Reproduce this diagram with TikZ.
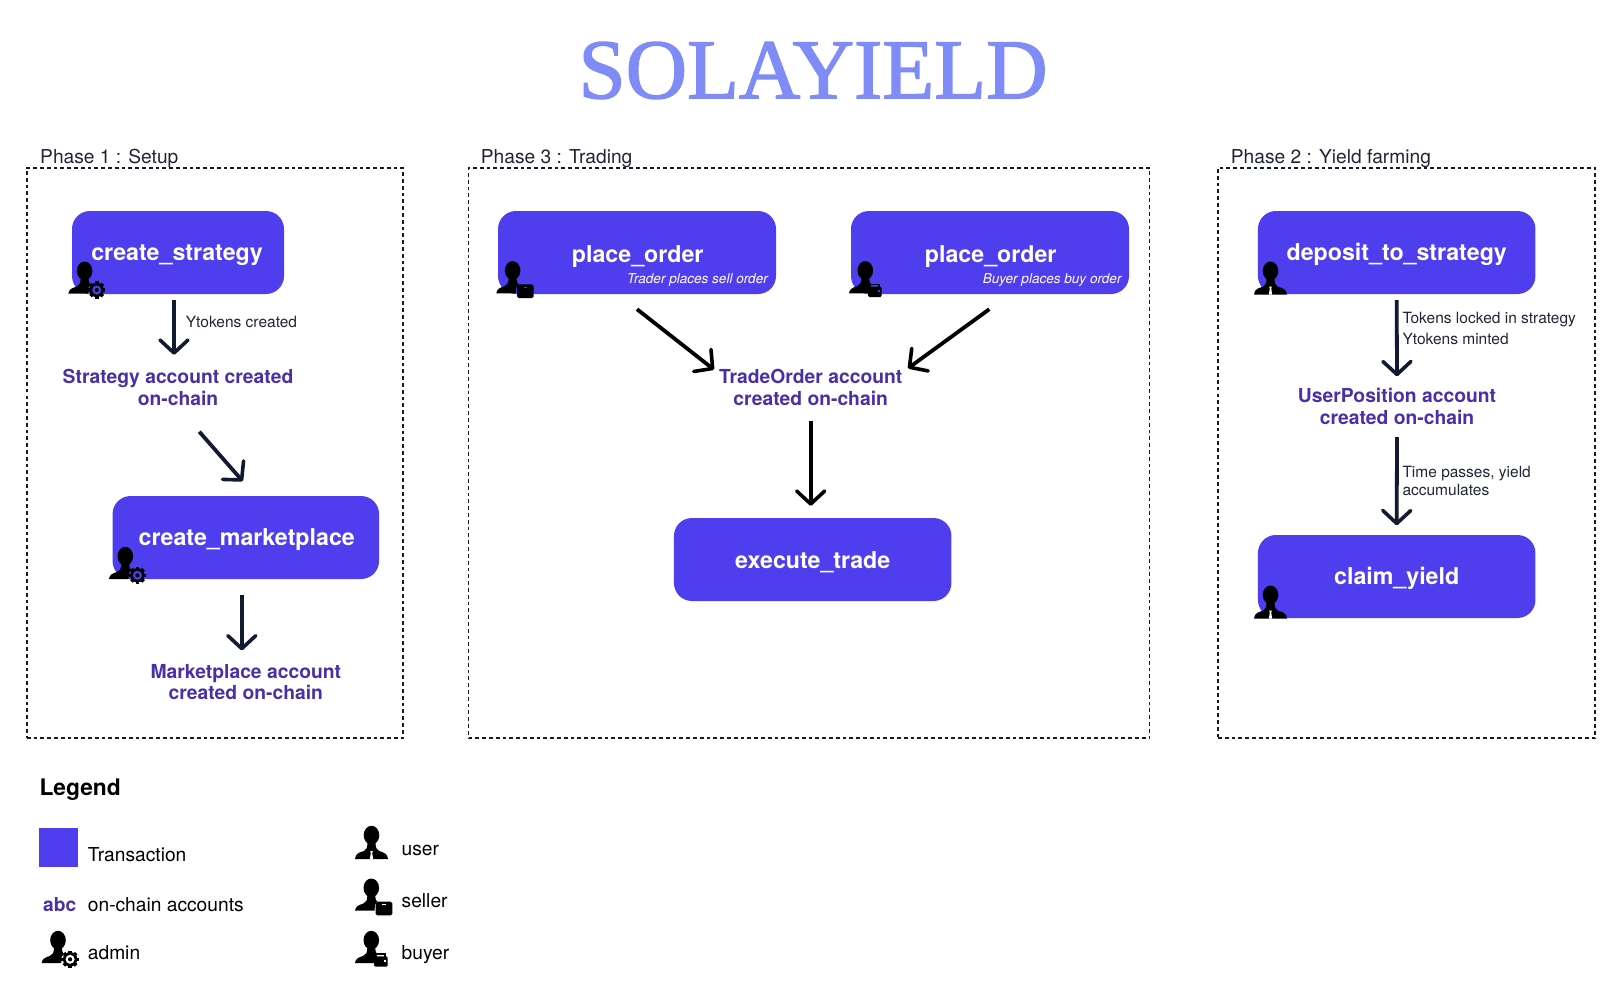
\documentclass[tikz,border=0pt]{standalone}
\usepackage{fontspec}
\setmainfont{TeX Gyre Heros}
\newfontfamily\titlefont[FakeBold=1.6]{Liberation Serif}
\usetikzlibrary{arrows.meta}
\definecolor{txblue}{HTML}{4F3EEE}
\definecolor{acctviolet}{HTML}{4A2FA8}
\definecolor{titleblue}{HTML}{7F8CF8}
\definecolor{inkdark}{HTML}{111A2E}
\definecolor{labelink}{HTML}{1F2535}
\tikzset{
  txbox/.style={fill=txblue,rounded corners=18pt,inner sep=0pt,text=white,
    font=\bfseries\fontsize{23.2}{27}\selectfont},
  subnote/.style={anchor=base east,inner sep=0pt,text=white,
    font=\itshape\fontsize{13.55}{16}\selectfont},
  acct/.style={align=center,inner sep=0pt,text=acctviolet,
    font=\bfseries\fontsize{19.3}{21.5}\selectfont},
  edgelbl/.style={anchor=base west,inner sep=0pt,text=labelink,
    font=\fontsize{15.5}{17.6}\selectfont},
  phaselbl/.style={anchor=base west,inner sep=0pt,text=labelink,
    font=\fontsize{19.2}{22}\selectfont},
  legendlbl/.style={anchor=base west,inner sep=0pt,text=black,
    font=\fontsize{19.2}{22}\selectfont},
  phasebox/.style={draw=inkdark,line width=1.9pt,dash pattern=on 3.8pt off 3pt,fill=none},
  flowarrow/.style={draw=inkdark,line width=3.8pt,
    -{Straight Barb[length=13pt,width=28pt,line width=3.6pt,round]}},
  blackarrow/.style={flowarrow,draw=black},
  pics/useric/.style={code={
    \fill[black] (16.5,9.2) ellipse [x radius=7.8,y radius=9.4];
    \fill[black] (0,33) .. controls (0.5,27.5) and (4,26.5) .. (9,25) .. controls (11.5,24) and (12.5,22) .. (12.5,15)
      -- (20.5,15) .. controls (20.5,22) and (21.5,24) .. (24,25) .. controls (29,26.5) and (32.5,27.5) .. (33,33) -- cycle;
    \fill[white] (15.2,25) -- (17.8,25) -- (17.2,27) -- (18.2,33) -- (14.8,33) -- (15.8,27) -- cycle;
  }},
  pics/oneside/.style={code={
    \fill[black] (16.3,9.2) ellipse [x radius=7.8,y radius=9.4];
    \fill[black] (0,32) .. controls (0.5,28) and (3,26.5) .. (8,25) .. controls (11,24) and (12.5,22) .. (12.3,15)
      -- (20.3,15) .. controls (20.3,20) and (20.6,21.5) .. (22,23) -- (20,26) -- (19.5,32) -- cycle;
  }},
  pics/adminic/.style={code={
    \pic {oneside};
    \begin{scope}[shift={(28.4,28.3)}]
      \foreach \a in {0,45,...,315}
        \fill[black,rotate=\a] (-1.8,-8.7) rectangle (1.8,0);
      \fill[black] (0,0) circle [radius=7.2];
      \fill[#1] (0,0) circle [radius=4.5];
      \fill[black] (0,0) circle [radius=2.1];
    \end{scope}
  }},
  pics/sellceric/.style={code={
    \pic {oneside};
    \fill[black,rounded corners=1.6pt] (20.7,23) rectangle (37.3,36.7);
    \fill[#1] (27.2,25.6) rectangle (31,26.6);
  }},
  pics/buyeric/.style={code={
    \pic {oneside};
    \fill[black,rounded corners=1.4pt] (19,25.4) rectangle (32.7,35.7);
    \draw[black,line width=1.4pt] (21,25.6) -- (21,23) -- (30,23) -- (30,25.6);
    \fill[#1] (29,29) rectangle (31.2,31);
  }},
}
\begin{document}
\begin{tikzpicture}[x=1pt,y=-1pt]
\useasboundingbox (0,0) rectangle (1618,990);

% title
\node[inner sep=0pt,text=titleblue,font=\titlefont\fontsize{85}{90}\selectfont] (title) at (813,70.5) {SOLAYIELD};

% phase frames
\node[phasebox,inner sep=0pt,minimum width=376pt,minimum height=570.6pt] (p1) at (214.8,453) {};
\node[phasebox,inner sep=0pt,minimum width=681pt,minimum height=570.6pt] (p3) at (809,453) {};
\node[phasebox,inner sep=0pt,minimum width=377pt,minimum height=570.6pt] (p2) at (1406.5,453) {};
\node[phaselbl] (p1l) at (40,163) {Phase 1 : Setup};
\node[phaselbl] (p3l) at (480.7,163) {Phase 3 : Trading};
\node[phaselbl] (p2l) at (1230.7,163) {Phase 2 : Yield farming};

% transaction boxes
\node[txbox,minimum width=212pt,minimum height=83pt] (cs) at (178,252.5) {};
\node[txbox,minimum width=266.5pt,minimum height=83pt] (cm) at (245.8,537.5) {};
\node[txbox,minimum width=278pt,minimum height=83pt] (po1) at (637,252.5) {};
\node[txbox,minimum width=278pt,minimum height=83pt] (po2) at (990,252.5) {};
\node[txbox,minimum width=277.5pt,minimum height=83pt] (et) at (812.7,559.5) {};
\node[txbox,minimum width=277.5pt,minimum height=83pt] (ds) at (1396.7,252.5) {};
\node[txbox,minimum width=277.5pt,minimum height=83pt] (cy) at (1396.7,576.5) {};

\node[txbox,fill=none] (csl) at (177,255) {create\_strategy};
\node[txbox,fill=none] (cml) at (246.7,540) {create\_marketplace};
\node[txbox,fill=none] (po1l) at (637.7,256.5) {place\_order};
\node[txbox,fill=none] (po2l) at (990.7,256.5) {place\_order};
\node[txbox,fill=none] (etl) at (812.7,562.5) {execute\_trade};
\node[txbox,fill=none] (dsl) at (1396.7,254.5) {deposit\_to\_strategy};
\node[txbox,fill=none] (cyl) at (1396.7,578.5) {claim\_yield};
\node[subnote] (po1s) at (768,283) {Trader places sell order};
\node[subnote] (po2s) at (1121.7,283) {Buyer places buy order};

% on-chain accounts
\node[acct] (a1) at (178,387.5) {Strategy account created\\on-chain};
\node[acct] (a2) at (245.8,682) {Marketplace account\\created on-chain};
\node[acct] (a3) at (810.7,387.5) {TradeOrder account\\created on-chain};
\node[acct] (a4) at (1397,406.5) {UserPosition account\\created on-chain};

% connectors
\draw[flowarrow] ([shift={(-4,6)}]cs.south) -- ([shift={(-4,-14.5)}]a1.north);
\draw[flowarrow] ([shift={(21.3,26)}]a1.south) -- ([shift={(-3,-14.5)}]cm.north);
\draw[flowarrow] ([shift={(-4,16)}]cm.south) -- ([shift={(-4,-13.5)}]a2.north);
\draw[blackarrow] ([shift={(0,15)}]po1.south) -- ([shift={(-96.7,0.3)}]a3.north);
\draw[blackarrow] ([shift={(-0.7,15)}]po2.south) -- ([shift={(97.3,-1)}]a3.north);
\draw[blackarrow] ([shift={(0,15)}]a3.south) -- ([shift={(-2,-12)}]et.north);
\draw[flowarrow] ([shift={(0,6)}]ds.south) -- ([shift={(0,-12)}]a4.north);
\draw[flowarrow] ([shift={(0,12.5)}]a4.south) -- ([shift={(0,-9.5)}]cy.north);

% connector labels
\node[edgelbl] (l1) at (185.7,327) {Ytokens created};
\node[edgelbl] (l2) at (1402.3,323.3) {Tokens locked in strategy};
\node[edgelbl] (l3) at (1402.3,344.7) {Ytokens minted};
\node[edgelbl] (l4) at (1402.3,477.7) {Time passes, yield};
\node[edgelbl] (l5) at (1402.3,495.3) {accumulates};

% role icons on boxes
\pic at (68.3,261.7) {adminic=txblue};
\pic at (109,547) {adminic=txblue};
\pic at (496.3,261.3) {sellceric=txblue};
\pic at (849,261.3) {buyeric=txblue};
\pic at (1254,261.7) {useric};
\pic at (1254,585.7) {useric};

% legend
\node[anchor=base west,inner sep=0pt,font=\bfseries\fontsize{22.8}{26}\selectfont] (lg) at (39.3,795.5) {Legend};
\node[fill=txblue,inner sep=0pt,minimum width=39pt,minimum height=38.4pt] (lgtx) at (58.5,847.5) {};
\node[legendlbl] (lgt) at (87.7,861) {Transaction};
\node[anchor=base,inner sep=0pt,text=acctviolet,font=\bfseries\fontsize{19.2}{22}\selectfont] (lgabc) at (59.7,911.7) {abc};
\node[legendlbl] (lgo) at (87.7,911.7) {on-chain accounts};
\node[legendlbl] (lga) at (87.7,959.7) {admin};
\node[legendlbl] (lgu) at (401.5,855.3) {user};
\node[legendlbl] (lgs) at (401.5,907.3) {seller};
\node[legendlbl] (lgb) at (401.5,959.7) {buyer};
\pic at (41.7,931) {adminic=white};
\pic at (355,826) {useric};
\pic at (355,878.7) {sellceric=white};
\pic at (355,931) {buyeric=white};
\end{tikzpicture}
\end{document}
